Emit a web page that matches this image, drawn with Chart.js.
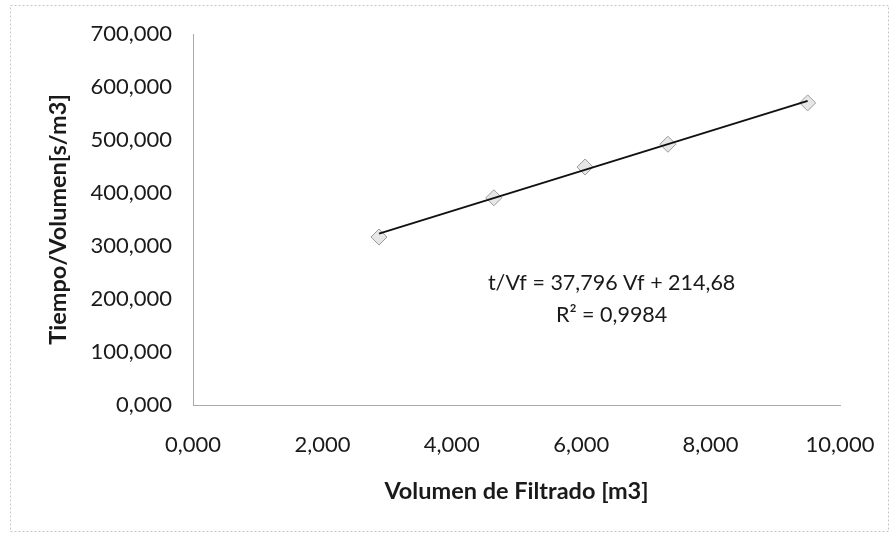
<!DOCTYPE html>
<html>
<head>
<meta charset="utf-8">
<script src="https://cdn.jsdelivr.net/npm/chart.js@4/dist/chart.umd.min.js"></script>
<style>
  html, body { margin: 0; padding: 0; background: #fff; }
  #wrap { width: 890px; height: 538px; position: relative; }
</style>
</head>
<body>
<div id="wrap"><canvas id="c" width="890" height="538"></canvas></div>
<script>
// ---- data ----
const volumenFiltrado = [2.875, 4.65, 6.06, 7.34, 9.50];
const tiempoVolumen   = [317, 391, 449, 492, 570];
const trendSlope = 37.796;
const trendIntercept = 214.68;
const xTicks = [0, 2, 4, 6, 8, 10];
const yTicks = [0, 100, 200, 300, 400, 500, 600, 700];
const xTitle = 'Volumen de Filtrado [m3]';
const yTitle = 'Tiempo/Volumen[s/m3]';
const equationLines = ['t/Vf = 37,796 Vf + 214,68', 'R² = 0,9984'];

const points = volumenFiltrado.map((x, i) => ({ x: x, y: tiempoVolumen[i] }));
const xMin = Math.min(...volumenFiltrado), xMax = Math.max(...volumenFiltrado);
const trend = [xMin, xMax].map(x => ({ x: x, y: trendSlope * x + trendIntercept }));

const fmt = v => Number(v).toFixed(3).replace('.', ',');
const FONT = 'Lato, "Open Sans", sans-serif';

const frame = {
  id: 'frame',
  beforeDraw(chart) {
    const ctx = chart.ctx;
    ctx.save();
    ctx.strokeStyle = '#c4c4c4';
    ctx.lineWidth = 1;
    ctx.setLineDash([2, 2]);
    ctx.strokeRect(10.5, 5.5, 878, 526);
    ctx.restore();
  },
  afterDatasetsDraw(chart) {
    const ctx = chart.ctx;
    const xs = chart.scales.x, ys = chart.scales.y;
    ctx.save();
    ctx.fillStyle = '#1a1a1a';
    ctx.font = '21.5px ' + FONT;
    ctx.textAlign = 'center';
    ctx.textBaseline = 'middle';
    const cx = xs.getPixelForValue(6.47);
    const cy = ys.getPixelForValue(230);
    ctx.fillText(equationLines[0], cx, cy);
    ctx.fillText(equationLines[1], cx, cy + 32);
    ctx.restore();
  }
};

new Chart(document.getElementById('c'), {
  type: 'scatter',
  data: {
    datasets: [
      {
        label: 'datos',
        data: points,
        pointStyle: 'rectRot',
        pointRadius: 8,
        pointBackgroundColor: 'rgba(215,215,215,0.6)',
        pointBorderColor: '#9a9a9a',
        pointBorderWidth: 1,
        showLine: false,
        order: 2
      },
      {
        label: 'tendencia',
        type: 'line',
        data: trend,
        borderColor: '#111',
        borderWidth: 2,
        pointRadius: 0,
        fill: false,
        order: 1
      }
    ]
  },
  plugins: [frame],
  options: {
    responsive: false,
    animation: false,
    events: [],
    layout: { padding: { left: 0, right: 50, top: 34, bottom: 0 } },
    plugins: { legend: { display: false }, tooltip: { enabled: false } },
    scales: {
      x: {
        type: 'linear',
        min: 0, max: 10,
        afterBuildTicks: s => { s.ticks = xTicks.map(v => ({ value: v })); },
        afterFit: s => { s.height = 133; s.paddingLeft = 0; s.paddingRight = 0; },
        grid: { display: false, drawTicks: false },
        border: { display: true, color: '#aaa', width: 1, dash: [2, 2] },
        ticks: { padding: 27, color: '#1a1a1a', font: { family: FONT, size: 22 }, callback: v => fmt(v) },
        title: { display: true, text: xTitle, color: '#1a1a1a', font: { family: FONT, size: 23.5, weight: 'bold' }, padding: { top: 0, bottom: 32 } }
      },
      y: {
        type: 'linear',
        min: 0, max: 700,
        afterBuildTicks: s => { s.ticks = yTicks.map(v => ({ value: v })); },
        afterFit: s => { s.width = 193; s.paddingTop = 0; s.paddingBottom = 0; },
        grid: { display: false, drawTicks: false },
        border: { display: true, color: '#aaa', width: 1, dash: [2, 2] },
        ticks: { padding: 21, color: '#1a1a1a', font: { family: FONT, size: 22 }, callback: v => fmt(v) },
        title: { display: true, text: yTitle, color: '#1a1a1a', font: { family: FONT, size: 23.5, weight: 'bold' }, padding: { top: 44, bottom: 0 } }
      }
    }
  }
});
</script>
</body>
</html>
